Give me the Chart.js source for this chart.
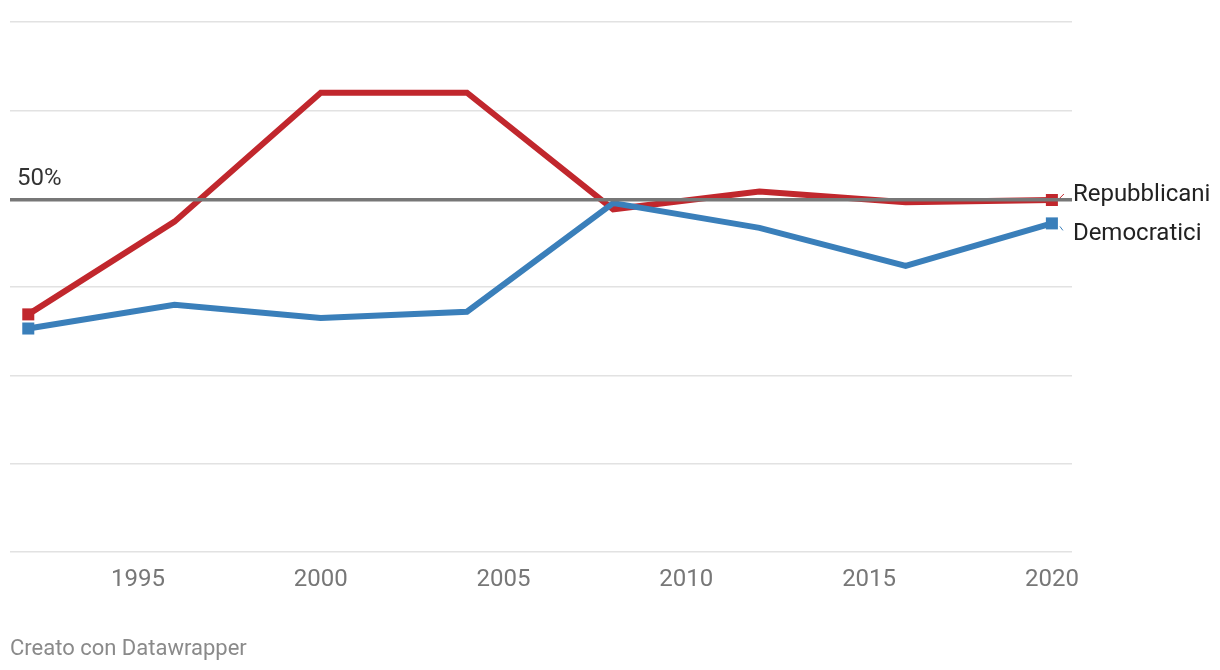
<!DOCTYPE html>
<html>
<head>
<meta charset="utf-8">
<script src="https://cdn.jsdelivr.net/npm/chart.js@4"></script>
<style>
html,body{margin:0;padding:0;background:#fff;}
#wrap{width:1220px;height:670px;position:relative;}
</style>
</head>
<body>
<div id="wrap"><canvas id="c" width="1220" height="670"></canvas></div>
<script>
const years = [1992, 1996, 2000, 2004, 2008, 2012, 2016, 2020];
const repubblicani = [36.9, 47.4, 62.0, 62.0, 48.8, 50.8, 49.6, 49.85];
const democratici = [35.3, 38.0, 36.5, 37.2, 49.5, 46.7, 42.4, 47.2];
const xTicks = [1995, 2000, 2005, 2010, 2015, 2020];
const seriesNames = ['Repubblicani', 'Democratici'];
const refValue = 50;
const refLabel = '50%';
const footer = 'Creato con Datawrapper';

const RED = '#c1272d';
const BLUE = '#3a7fba';
const FONT = 'Roboto, "Noto Sans", sans-serif';

function endRadii(n){ return years.map((_, i) => (i === 0 || i === n - 1) ? 8.5 : 0); }

const overlay = {
  id: 'overlay',
  afterDatasetsDraw(chart) {
    const {ctx, chartArea, scales} = chart;
    const y = scales.y.getPixelForValue(refValue) + 1;
    ctx.save();
    // reference line
    ctx.strokeStyle = '#777777';
    ctx.lineWidth = 3.5;
    ctx.beginPath();
    ctx.moveTo(chartArea.left, y);
    ctx.lineTo(chartArea.right, y);
    ctx.stroke();
    ctx.fillStyle = '#333333';
    ctx.font = '24px ' + FONT;
    ctx.textBaseline = 'alphabetic';
    ctx.textAlign = 'left';
    ctx.fillText(refLabel, 17, y - 15);
    // series labels
    const lastX = scales.x.getPixelForValue(years[years.length - 1]);
    const rY = scales.y.getPixelForValue(repubblicani[repubblicani.length - 1]);
    const dY = scales.y.getPixelForValue(democratici[democratici.length - 1]);
    const rLab = rY - 5, dLab = dY + 11;
    ctx.lineWidth = 1;
    ctx.strokeStyle = RED;
    ctx.beginPath(); ctx.moveTo(lastX + 8, rY - 2); ctx.lineTo(lastX + 12, rLab - 1); ctx.stroke();
    ctx.strokeStyle = BLUE;
    ctx.beginPath(); ctx.moveTo(lastX + 8, dY + 3); ctx.lineTo(lastX + 11, dLab - 4); ctx.stroke();
    ctx.fillStyle = '#222222';
    ctx.textBaseline = 'middle';
    ctx.fillText(seriesNames[0], lastX + 21, rLab);
    ctx.fillText(seriesNames[1], lastX + 21, dLab);
    // footer
    ctx.fillStyle = '#8a8a8a';
    ctx.font = '22px ' + FONT;
    ctx.fillText(footer, 10, 649);
    ctx.restore();
  }
};

new Chart(document.getElementById('c'), {
  type: 'line',
  data: {
    datasets: [
      {
        label: seriesNames[1],
        data: years.map((x, i) => ({x, y: democratici[i]})),
        borderColor: BLUE, backgroundColor: BLUE,
        borderWidth: 6, pointStyle: 'rect', pointRadius: endRadii(years.length),
        pointBorderWidth: 0, pointHoverRadius: 0, tension: 0, borderJoinStyle: 'miter', borderCapStyle: 'butt'
      },
      {
        label: seriesNames[0],
        data: years.map((x, i) => ({x, y: repubblicani[i]})),
        borderColor: RED, backgroundColor: RED,
        borderWidth: 6, pointStyle: 'rect', pointRadius: endRadii(years.length),
        pointBorderWidth: 0, pointHoverRadius: 0, tension: 0, borderJoinStyle: 'miter', borderCapStyle: 'butt'
      }
    ]
  },
  options: {
    responsive: false,
    animation: false,
    events: [],
    layout: { padding: { left: 10, right: 148, top: 22, bottom: 0 } },
    plugins: { legend: { display: false }, tooltip: { enabled: false } },
    scales: {
      x: {
        type: 'linear',
        min: 1991.5,
        max: 2020.55,
        afterBuildTicks: s => { s.ticks = xTicks.map(v => ({value: v})); },
        afterFit: s => { s.height = 118; },
        grid: { display: false, drawTicks: false },
        border: { display: false },
        ticks: {
          padding: 14,
          color: '#777777',
          font: { family: FONT, size: 24 },
          maxRotation: 0,
          autoSkip: false,
          callback: v => String(v)
        }
      },
      y: {
        min: 10, max: 70,
        afterBuildTicks: s => { s.ticks = [10,20,30,40,50,60,70].map(v => ({value: v})); },
        afterFit: s => { s.width = 0; },
        ticks: { display: false },
        grid: { color: '#e2e2e2', lineWidth: 1.5, drawTicks: false },
        border: { display: false }
      }
    }
  },
  plugins: [overlay]
});
</script>
</body>
</html>
